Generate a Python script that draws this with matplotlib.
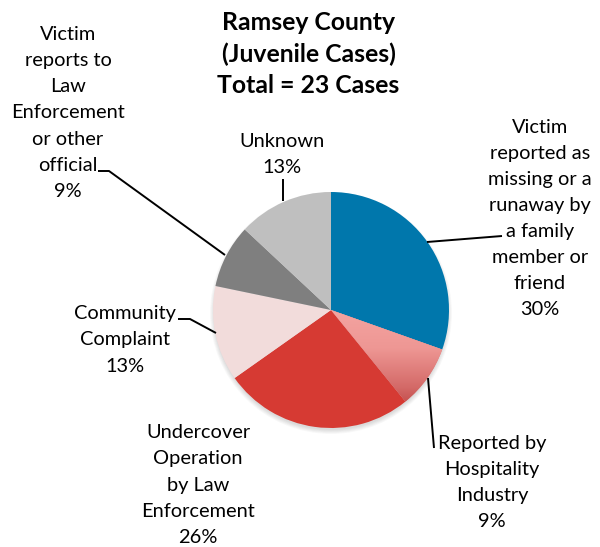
import numpy as np
import matplotlib
matplotlib.use("Agg")
import matplotlib.pyplot as plt
from matplotlib.colors import LinearSegmentedColormap
from matplotlib.patches import Circle

title = "Ramsey County\n(Juvenile Cases)\nTotal = 23 Cases"
categories = [
    "Victim\nreported as\nmissing or a\nrunaway by\na family\nmember or\nfriend",
    "Reported by\nHospitality\nIndustry",
    "Undercover\nOperation\nby Law\nEnforcement",
    "Community\nComplaint",
    "Victim\nreports to\nLaw\nEnforcement\nor other\nofficial",
    "Unknown",
]
counts = [7, 2, 6, 3, 2, 3]
colors = ["#0077AC", "#E07A78", "#D63A33", "#F2DCDB", "#7F7F7F", "#BFBFBF"]

plt.rcParams['font.family'] = ['Lato', 'DejaVu Sans']

W, H = 600, 547
fig = plt.figure(figsize=(W / 100, H / 100), dpi=100)
ax = fig.add_axes([0, 0, 1, 1])

cx, cy, r = 331, H - 310, 118


def Y(yp):
    return H - yp


# soft shadow
for i in range(6):
    ax.add_patch(Circle((cx, cy - 3), r + 3 - i * 0.8, color='black',
                        alpha=0.025, linewidth=0, zorder=0.5))

wedges, _ = ax.pie(counts, colors=colors, startangle=90, counterclock=False,
                   center=(cx, cy), radius=r, frame=True,
                   wedgeprops=dict(linewidth=0))
ax.set_xlim(0, W)
ax.set_ylim(0, H)
ax.set_aspect('equal')
ax.axis('off')

# gradient fill for the hospitality slice
gw = wedges[1]
grad = np.linspace(0, 1, 256).reshape(-1, 1)
cmap = LinearSegmentedColormap.from_list("g", ["#F4A4A1", "#EE9794", "#D46A68", "#AE2B2A"])
im = ax.imshow(grad, cmap=cmap, aspect='auto', origin='upper',
               extent=(cx - 2, cx + r + 2, cy - r + 2, cy + 1),
               zorder=gw.get_zorder() + 0.1)
im.set_clip_path(gw)
ax.set_xlim(0, W)
ax.set_ylim(0, H)

total = sum(counts)
pcts = [f"{round(100 * c / total)}%" for c in counts]
labels = [f"{c}\n{p}" for c, p in zip(categories, pcts)]

fs = 14.4
ls = 1.65
# label centres in pixel coordinates
label_pos = [(540, 218.5), (492, 482.5), (198, 485), (125, 340), (68, 113), (282, 154.5)]
for lab, (x, y) in zip(labels, label_pos):
    ax.text(x, Y(y), lab, ha='center', va='center', fontsize=fs,
            linespacing=ls, color='black')

ax.text(308.5, Y(54), title, ha='center', va='center', fontsize=17.8,
        fontweight='bold', linespacing=1.43)

# leader lines (pixel coordinates)
leaders = [
    [(427, 242), (502, 236)],
    [(428, 378), (434, 448)],
    [(216, 333), (190, 319), (178, 319)],
    [(225, 255), (109, 171), (98, 171)],
    [(283, 201), (283, 179)],
]
for pts in leaders:
    xs = [p[0] for p in pts]
    ys = [Y(p[1]) for p in pts]
    ax.plot(xs, ys, color='black', linewidth=1.4, solid_capstyle='butt')

fig.savefig("out.png", dpi=100)
